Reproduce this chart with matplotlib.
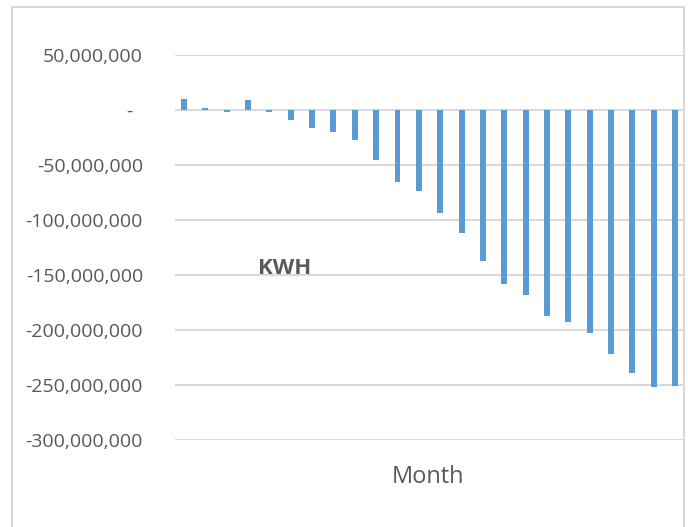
import numpy as np
import matplotlib.pyplot as plt
from matplotlib.ticker import FuncFormatter
from matplotlib.patches import Rectangle

plt.rcParams['font.family'] = ['Open Sans', 'DejaVu Sans']

# monthly KWH values
months = np.arange(1, 25)
kwh = [10e6, 2e6, -1.5e6, 9.5e6, -2e6, -9e6, -16e6, -20e6,
       -27e6, -45e6, -65e6, -74e6, -94e6, -112e6, -137e6, -158e6,
       -168e6, -187e6, -193e6, -203e6, -222e6, -239e6, -252e6, -251e6]
yticks = np.arange(-300e6, 50e6 + 1, 50e6)

grey = '#595959'
grid = '#D9D9D9'

fig = plt.figure(figsize=(6.88, 5.27), dpi=100)
# outer chart border
fig.patches.append(Rectangle((12 / 688, -0.01), (684 - 12) / 688, 1 - 7 / 527 + 0.01,
                             transform=fig.transFigure, fill=False,
                             edgecolor=grid, lw=1.5))

ax = fig.add_axes([175 / 688, 1 - 440 / 527, (683 - 175) / 688, (440 - 55) / 527])
x = np.arange(len(months))
ax.bar(x, kwh, width=0.28, color='#5B9BD5', zorder=3)

ax.set_ylim(-300e6, 50e6)
ax.set_xlim(-0.42, 23.37)
ax.set_yticks(yticks)


def fmt(v, pos):
    if abs(v) < 1:
        return '-  '
    return '{:,.0f}'.format(v)


ax.yaxis.set_major_formatter(FuncFormatter(fmt))
ax.tick_params(axis='y', length=0, pad=23, labelsize=14, labelcolor=grey)
ax.set_xticks([])
ax.grid(axis='y', color=grid, lw=1.5, zorder=0)
for s in ax.spines.values():
    s.set_visible(False)

fig.text(428 / 688, 1 - 477 / 527, 'Month', ha='center', va='center',
         fontsize=17, color=grey)
fig.text(285 / 688, 1 - 269 / 527, 'KWH', ha='center', va='center',
         fontsize=16, fontweight='bold', color=grey)

fig.savefig('out.png', dpi=100)
